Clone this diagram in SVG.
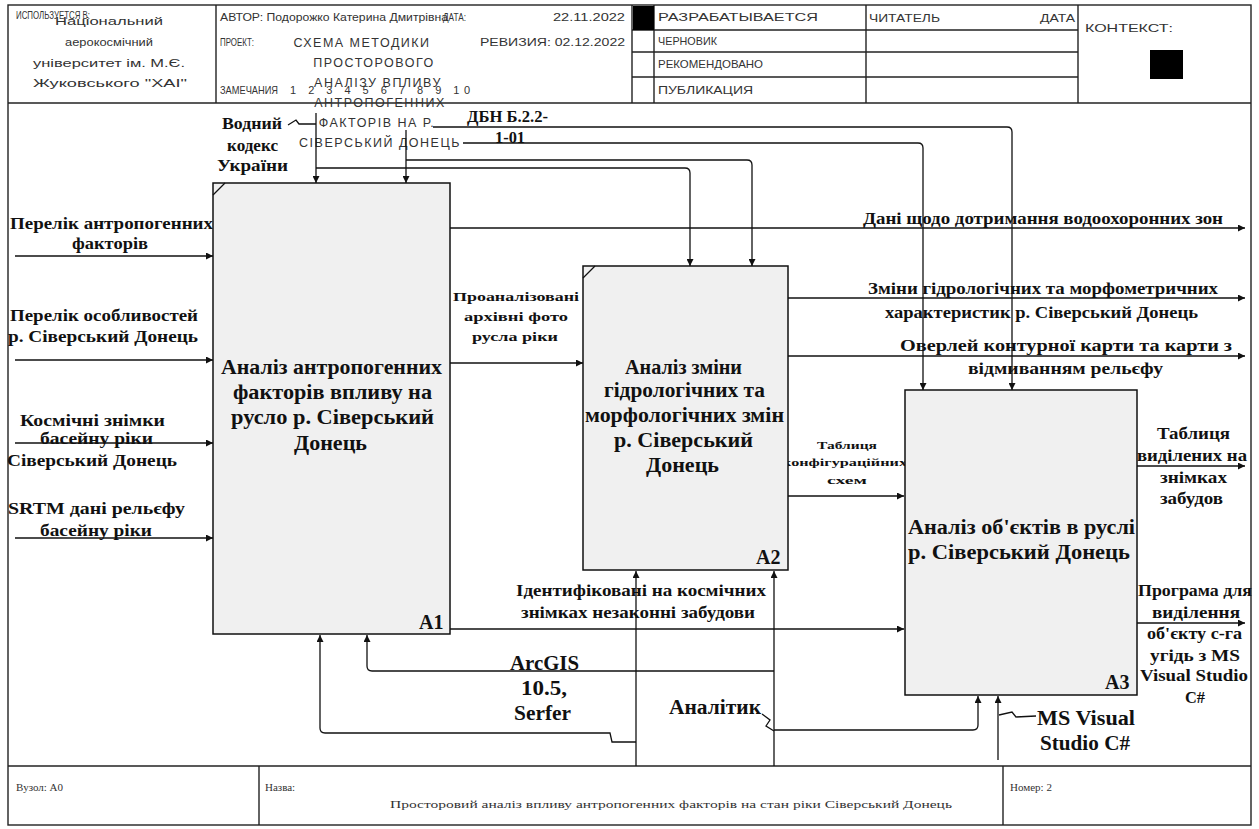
<svg xmlns="http://www.w3.org/2000/svg" width="1259" height="829" viewBox="0 0 1259 829">
<defs>
<style>
.fr{fill:none;stroke:#222;stroke-width:1.4}
.ln{fill:none;stroke:#111;stroke-width:1.3}
.box{fill:#f0f0f0;stroke:#111;stroke-width:1.5}
.hd{font-family:"Liberation Sans",Arial,sans-serif;font-size:11px;fill:#333}
.pj{font-family:"Liberation Sans",Arial,sans-serif;font-size:12.5px;fill:#333;text-anchor:middle}
.lb{font-family:"Liberation Serif","Times New Roman",serif;font-weight:bold;fill:#111}
.f11{font-size:11px}.f13{font-size:13px}.f16{font-size:16px}.f17{font-size:17px}.f20{font-size:20px}
.ft{font-family:"Liberation Serif","Times New Roman",serif;font-size:11px;fill:#333}
</style>
<marker id="ah" viewBox="0 0 10 10" refX="10" refY="5" markerWidth="9" markerHeight="7" markerUnits="userSpaceOnUse" orient="auto"><path d="M0,0 L10,5 L0,10 z" fill="#111"/></marker>
</defs>
<rect x="0" y="0" width="1259" height="829" fill="#fff"/>

<g id="frame">
<rect class="fr" x="8" y="5" width="1243" height="820"/>
<line class="fr" x1="8" y1="103" x2="1251" y2="103"/>
<line class="fr" x1="216" y1="5" x2="216" y2="103"/>
<line class="fr" x1="632" y1="5" x2="632" y2="103"/>
<line class="fr" x1="654" y1="5" x2="654" y2="103"/>
<line class="fr" x1="866" y1="5" x2="866" y2="103"/>
<line class="fr" x1="1078" y1="5" x2="1078" y2="103"/>
<line class="fr" x1="632" y1="30" x2="1078" y2="30"/>
<line class="fr" x1="632" y1="52" x2="1078" y2="52"/>
<line class="fr" x1="632" y1="77" x2="1078" y2="77"/>
<rect x="633" y="6" width="21" height="24" fill="#000"/>
<rect x="1150" y="50" width="33" height="29" fill="#000"/>
<line class="fr" x1="8" y1="766" x2="1251" y2="766"/>
<line class="fr" x1="259" y1="766" x2="259" y2="825"/>
<line class="fr" x1="1003" y1="766" x2="1003" y2="825"/>
</g>

<g id="header-text">
<text class="hd" x="16" y="19" textLength="74" lengthAdjust="spacingAndGlyphs">ИСПОЛЬЗУЕТСЯ В:</text>
<text class="hd" x="55" y="25" textLength="108" lengthAdjust="spacingAndGlyphs">Національний</text>
<text class="hd" x="65" y="46" textLength="88" lengthAdjust="spacingAndGlyphs">аерокосмічний</text>
<text class="hd" x="33" y="67" textLength="152" lengthAdjust="spacingAndGlyphs">університет ім. М.Є.</text>
<text class="hd" x="33" y="87" textLength="154" lengthAdjust="spacingAndGlyphs">Жуковського "ХАІ"</text>
<text class="hd" x="220" y="21" textLength="228" lengthAdjust="spacingAndGlyphs">АВТОР: Подорожко Катерина Дмитрівна</text>
<text class="hd" x="443" y="21" textLength="23" lengthAdjust="spacingAndGlyphs">ДАТА:</text>
<text class="hd" x="553" y="21" textLength="72" lengthAdjust="spacingAndGlyphs">22.11.2022</text>
<text class="hd" x="220" y="46" textLength="34" lengthAdjust="spacingAndGlyphs">ПРОЕКТ:</text>
<text class="hd" x="480" y="46" textLength="145" lengthAdjust="spacingAndGlyphs">РЕВИЗИЯ: 02.12.2022</text>
<text class="hd" x="220" y="94" textLength="58" lengthAdjust="spacingAndGlyphs">ЗАМЕЧАНИЯ</text>
<text class="hd" x="290" y="94" textLength="180" lengthAdjust="spacing">1 2 3 4 5 6 7 8 9 10</text>
<text class="pj" x="362" y="47" letter-spacing="1.5">СХЕМА МЕТОДИКИ</text>
<text class="pj" x="374" y="67" letter-spacing="1.5">ПРОСТОРОВОГО</text>
<text class="pj" x="378" y="87" letter-spacing="1.5">АНАЛІЗУ ВПЛИВУ</text>
<text class="pj" x="380" y="107" letter-spacing="1.5">АНТРОПОГЕННИХ</text>
<text class="pj" x="377" y="127" letter-spacing="1.5">ФАКТОРІВ НА Р.</text>
<text class="pj" x="380" y="147" letter-spacing="1.5">СІВЕРСЬКИЙ ДОНЕЦЬ</text>
<text class="hd" x="658" y="21" textLength="160" lengthAdjust="spacingAndGlyphs">РАЗРАБАТЫВАЕТСЯ</text>
<text class="hd" x="658" y="45" textLength="59" lengthAdjust="spacingAndGlyphs">ЧЕРНОВИК</text>
<text class="hd" x="658" y="68" textLength="105" lengthAdjust="spacingAndGlyphs">РЕКОМЕНДОВАНО</text>
<text class="hd" x="658" y="94" textLength="95" lengthAdjust="spacingAndGlyphs">ПУБЛИКАЦИЯ</text>
<text class="hd" x="869" y="22" textLength="71" lengthAdjust="spacingAndGlyphs">ЧИТАТЕЛЬ</text>
<text class="hd" x="1040" y="22" textLength="35" lengthAdjust="spacingAndGlyphs">ДАТА</text>
<text class="hd" x="1085" y="32" textLength="88" lengthAdjust="spacingAndGlyphs">КОНТЕКСТ:</text>
</g>

<g id="connectors">
<path class="ln" d="M15,256 H213" marker-end="url(#ah)"/>
<path class="ln" d="M15,360 H213" marker-end="url(#ah)"/>
<path class="ln" d="M15,443 H213" marker-end="url(#ah)"/>
<path class="ln" d="M15,538 H213" marker-end="url(#ah)"/>
<path class="ln" d="M316,113 V183" marker-end="url(#ah)"/>
<path class="ln" d="M316,168 H685 Q690,168 690,173 V266" marker-end="url(#ah)"/>
<path class="ln" d="M406,130 V183" marker-end="url(#ah)"/>
<path class="ln" d="M406,160 H747 Q752,160 752,165 V266" marker-end="url(#ah)"/>
<path class="ln" d="M433,127 H1007 Q1012,127 1012,132 V390" marker-end="url(#ah)"/>
<path class="ln" d="M463,143 H918 Q923,143 923,148 V390" marker-end="url(#ah)"/>
<path class="ln" d="M450,228 H1245" marker-end="url(#ah)"/>
<path class="ln" d="M450,363 H583" marker-end="url(#ah)"/>
<path class="ln" d="M788,298 H1245" marker-end="url(#ah)"/>
<path class="ln" d="M788,356 H1245" marker-end="url(#ah)"/>
<path class="ln" d="M788,496 H904" marker-end="url(#ah)"/>
<path class="ln" d="M450,629 H904" marker-end="url(#ah)"/>
<path class="ln" d="M1137,466 H1245" marker-end="url(#ah)"/>
<path class="ln" d="M1137,623 H1245" marker-end="url(#ah)"/>
<path class="ln" d="M636,766 V571" marker-end="url(#ah)"/>
<path class="ln" d="M774,766 V571" marker-end="url(#ah)"/>
<path class="ln" d="M636,742 H612 L610,733 H325 Q320,733 320,728 V635" marker-end="url(#ah)"/>
<path class="ln" d="M774,671 H372 Q367,671 367,666 V635" marker-end="url(#ah)"/>
<path class="ln" d="M774,730 H973 Q978,730 978,725 V696" marker-end="url(#ah)"/>
<path class="ln" d="M998,760 V696" marker-end="url(#ah)"/>
<path class="ln" d="M288,125 L296,120 L299,124 L316,124"/>
<path class="ln" d="M762,714 L770,720 L766,726 L774,731"/>
<path class="ln" d="M999,715 L1012,712 L1016,717 L1036,716"/>
</g>

<g id="labels">
<text class="lb f17" x="10" y="229" textLength="203" lengthAdjust="spacingAndGlyphs">Перелік антропогенних</text>
<text class="lb f17" x="72" y="249" textLength="76" lengthAdjust="spacingAndGlyphs">факторів</text>
<text class="lb f17" x="10" y="321" textLength="188" lengthAdjust="spacingAndGlyphs">Перелік особливостей</text>
<text class="lb f17" x="8" y="342" textLength="190" lengthAdjust="spacingAndGlyphs">р. Сіверський Донець</text>
<text class="lb f17" x="20" y="426" textLength="145" lengthAdjust="spacingAndGlyphs">Космічні знімки</text>
<text class="lb f17" x="40" y="444" textLength="113" lengthAdjust="spacingAndGlyphs">басейну ріки</text>
<text class="lb f17" x="7" y="466" textLength="170" lengthAdjust="spacingAndGlyphs">Сіверський Донець</text>
<text class="lb f17" x="8" y="514" textLength="177" lengthAdjust="spacingAndGlyphs">SRTM дані рельєфу</text>
<text class="lb f17" x="40" y="536" textLength="112" lengthAdjust="spacingAndGlyphs">басейну ріки</text>
<text class="lb f17" x="222" y="129" textLength="60" lengthAdjust="spacingAndGlyphs">Водний</text>
<text class="lb f17" x="227" y="151" textLength="51" lengthAdjust="spacingAndGlyphs">кодекс</text>
<text class="lb f17" x="217" y="171" textLength="71" lengthAdjust="spacingAndGlyphs">України</text>
<text class="lb f17" x="467" y="122" textLength="81" lengthAdjust="spacingAndGlyphs">ДБН Б.2.2-</text>
<text class="lb f17" x="495" y="143" textLength="30" lengthAdjust="spacingAndGlyphs">1-01</text>
<text class="lb f16" x="863" y="224" textLength="360" lengthAdjust="spacingAndGlyphs">Дані щодо дотримання водоохоронних зон</text>
<text class="lb f16" x="868" y="294" textLength="350" lengthAdjust="spacingAndGlyphs">Зміни гідрологічних та морфометричних</text>
<text class="lb f16" x="885" y="318" textLength="313" lengthAdjust="spacingAndGlyphs">характеристик р. Сіверський Донець</text>
<text class="lb f16" x="900" y="351" textLength="332" lengthAdjust="spacingAndGlyphs">Оверлей контурної карти та карти з</text>
<text class="lb f16" x="968" y="374" textLength="195" lengthAdjust="spacingAndGlyphs">відмиванням рельєфу</text>
<text class="lb f13" x="453" y="301" textLength="126" lengthAdjust="spacingAndGlyphs">Проаналізовані</text>
<text class="lb f13" x="464" y="321" textLength="104" lengthAdjust="spacingAndGlyphs">архівні фото</text>
<text class="lb f13" x="472" y="341" textLength="86" lengthAdjust="spacingAndGlyphs">русла ріки</text>
<text class="lb f11" x="817" y="449" textLength="60" lengthAdjust="spacingAndGlyphs">Таблиця</text>
<text class="lb f11" x="782" y="466" textLength="125" lengthAdjust="spacingAndGlyphs">конфігураційних</text>
<text class="lb f11" x="827" y="484" textLength="40" lengthAdjust="spacingAndGlyphs">схем</text>
<text class="lb f16" x="1157" y="439" textLength="73" lengthAdjust="spacingAndGlyphs">Таблиця</text>
<text class="lb f16" x="1137" y="461" textLength="110" lengthAdjust="spacingAndGlyphs">виділених на</text>
<text class="lb f16" x="1160" y="483" textLength="67" lengthAdjust="spacingAndGlyphs">знімках</text>
<text class="lb f16" x="1160" y="504" textLength="63" lengthAdjust="spacingAndGlyphs">забудов</text>
<text class="lb f16" x="1138" y="596" textLength="114" lengthAdjust="spacingAndGlyphs">Програма для</text>
<text class="lb f16" x="1152" y="618" textLength="88" lengthAdjust="spacingAndGlyphs">виділення</text>
<text class="lb f16" x="1147" y="639" textLength="95" lengthAdjust="spacingAndGlyphs">об'єкту с-га</text>
<text class="lb f16" x="1150" y="661" textLength="90" lengthAdjust="spacingAndGlyphs">угідь з MS</text>
<text class="lb f16" x="1140" y="681" textLength="108" lengthAdjust="spacingAndGlyphs">Visual Studio</text>
<text class="lb f16" x="1185" y="703" textLength="20" lengthAdjust="spacingAndGlyphs">C#</text>
<text class="lb f16" x="516" y="596" textLength="250" lengthAdjust="spacingAndGlyphs">Ідентифіковані на космічних</text>
<text class="lb f16" x="521" y="618" textLength="234" lengthAdjust="spacingAndGlyphs">знімках незаконні забудови</text>
<text class="lb f20" x="510" y="670" textLength="69" lengthAdjust="spacingAndGlyphs">ArcGIS</text>
<text class="lb f20" x="521" y="695" textLength="46" lengthAdjust="spacingAndGlyphs">10.5,</text>
<text class="lb f20" x="514" y="720" textLength="57" lengthAdjust="spacingAndGlyphs">Serfer</text>
<text class="lb f20" x="669" y="714" textLength="92" lengthAdjust="spacingAndGlyphs">Аналітик</text>
<text class="lb f20" x="1037" y="725" textLength="98" lengthAdjust="spacingAndGlyphs">MS Visual</text>
<text class="lb f20" x="1040" y="750" textLength="90" lengthAdjust="spacingAndGlyphs">Studio C#</text>
</g>

<g id="A1">
<rect class="box" x="213" y="183" width="237" height="451"/>
<line class="ln" x1="213" y1="195" x2="225" y2="183"/>
<text class="lb f20" x="221" y="374" textLength="221" lengthAdjust="spacingAndGlyphs">Аналіз антропогенних</text>
<text class="lb f20" x="233" y="399" textLength="199" lengthAdjust="spacingAndGlyphs">факторів впливу на</text>
<text class="lb f20" x="231" y="424" textLength="203" lengthAdjust="spacingAndGlyphs">русло р. Сіверський</text>
<text class="lb f20" x="294" y="450" textLength="73" lengthAdjust="spacingAndGlyphs">Донець</text>
<text class="lb f20" x="419" y="629">A1</text>
</g>

<g id="A2">
<rect class="box" x="583" y="266" width="205" height="304"/>
<line class="ln" x1="583" y1="278" x2="595" y2="266"/>
<text class="lb f20" x="625" y="374" textLength="117" lengthAdjust="spacingAndGlyphs">Аналіз зміни</text>
<text class="lb f20" x="604" y="397" textLength="161" lengthAdjust="spacingAndGlyphs">гідрологічних та</text>
<text class="lb f20" x="585" y="422" textLength="199" lengthAdjust="spacingAndGlyphs">морфологічних змін</text>
<text class="lb f20" x="614" y="447" textLength="139" lengthAdjust="spacingAndGlyphs">р. Сіверський</text>
<text class="lb f20" x="646" y="472" textLength="73" lengthAdjust="spacingAndGlyphs">Донець</text>
<text class="lb f20" x="756" y="564">A2</text>
</g>

<g id="A3">
<rect class="box" x="905" y="390" width="232" height="305"/>
<text class="lb f20" x="908" y="534" textLength="227" lengthAdjust="spacingAndGlyphs">Аналіз об'єктів в руслі</text>
<text class="lb f20" x="908" y="559" textLength="222" lengthAdjust="spacingAndGlyphs">р. Сіверський Донець</text>
<text class="lb f20" x="1105" y="689">A3</text>
</g>

<g id="footer">
<text class="ft" x="16" y="791">Вузол:   A0</text>
<text class="ft" x="265" y="791">Назва:</text>
<text class="ft" x="390" y="808" textLength="562" lengthAdjust="spacingAndGlyphs">Просторовий аналіз впливу антропогенних факторів на стан ріки Сіверський Донець</text>
<text class="ft" x="1010" y="791">Номер: 2</text>
</g>
</svg>
